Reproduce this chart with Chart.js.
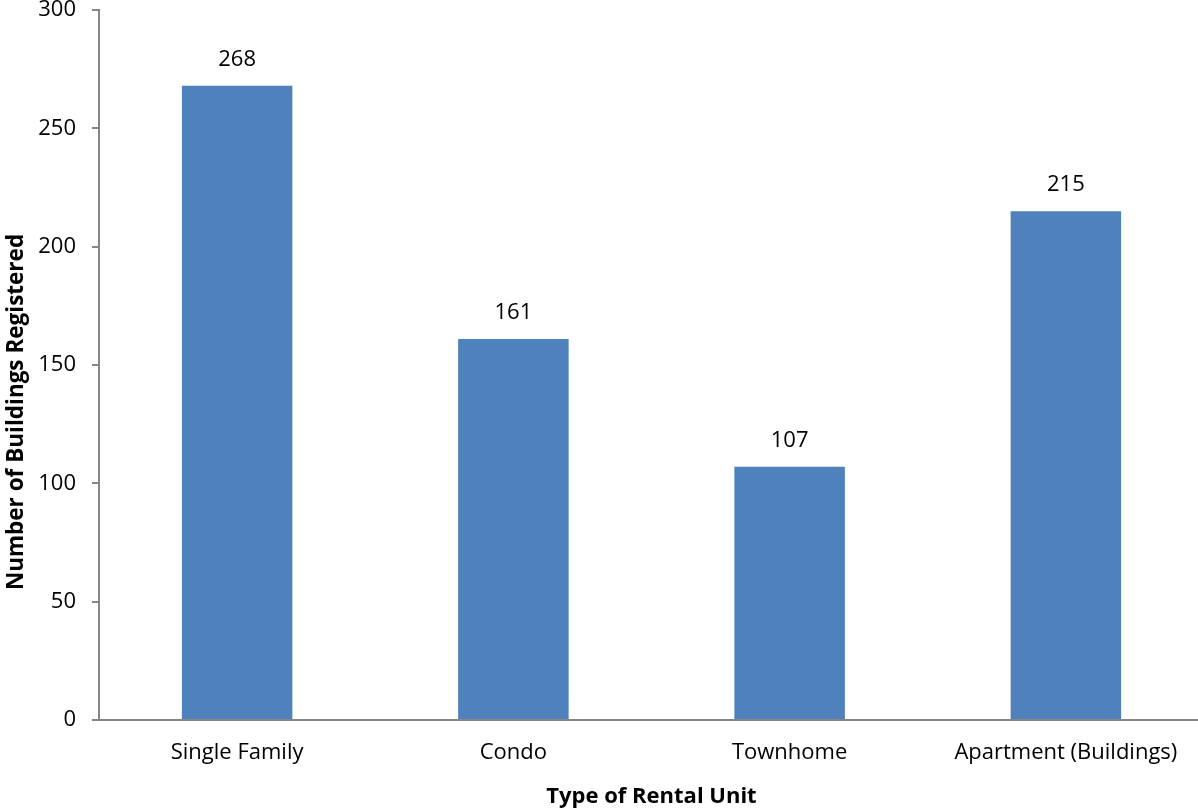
<!DOCTYPE html>
<html>
<head>
<meta charset="utf-8">
<script src="https://cdn.jsdelivr.net/npm/chart.js@4"></script>
<style>
  html, body { margin: 0; padding: 0; background: #fff; overflow: hidden; }
  #wrap { width: 1204px; height: 810px; }
</style>
</head>
<body>
<div id="wrap"><canvas id="rentalChart"></canvas></div>
<script>
const categories = ['Single Family', 'Condo', 'Townhome', 'Apartment (Buildings)'];
const buildings = [268, 161, 107, 215];
const yTicks = [0, 50, 100, 150, 200, 250, 300];

const fontFamily = "'Open Sans', 'Noto Sans', 'Liberation Sans', sans-serif";
const yTitle = 'Number of Buildings Registered';

// draws the number above each bar, plus the y axis title
const valueLabels = {
    id: 'valueLabels',
    afterDatasetsDraw(chart) {
        const ctx = chart.ctx;
        const meta = chart.getDatasetMeta(0);
        ctx.save();
        ctx.font = '22px ' + fontFamily;
        ctx.fillStyle = '#000';
        ctx.textAlign = 'center';
        ctx.textBaseline = 'alphabetic';
        meta.data.forEach(function(bar, i) {
            ctx.fillText(String(buildings[i]), bar.x, bar.y - 20);
        });
        ctx.restore();

        ctx.save();
        ctx.translate(17, 412);
        ctx.rotate(-Math.PI / 2);
        ctx.font = 'bold 22.5px ' + fontFamily;
        ctx.fillStyle = '#000';
        ctx.textAlign = 'center';
        ctx.textBaseline = 'middle';
        ctx.fillText(yTitle, 0, 0);
        ctx.restore();
    }
};

document.addEventListener('DOMContentLoaded', function() {
    const ctx = document.getElementById('rentalChart').getContext('2d');
    new Chart(ctx, {
        type: 'bar',
        data: {
            labels: categories,
            datasets: [{
                label: 'Buildings',
                data: buildings,
                backgroundColor: '#4F81BD',
                borderWidth: 0,
                categoryPercentage: 1,
                barPercentage: 0.4
            }]
        },
        options: {
            responsive: true,
            maintainAspectRatio: false,
            animation: false,
            layout: { padding: { top: 10, right: 0, left: 0, bottom: 0 } },
            plugins: {
                legend: { display: false },
                tooltip: { enabled: false }
            },
            scales: {
                x: {
                    grid: { display: false, drawTicks: false },
                    border: { color: '#868686', width: 2 },
                    ticks: {
                        color: '#000',
                        padding: 20,
                        font: { family: fontFamily, size: 22 }
                    },
                    title: {
                        display: true,
                        text: 'Type of Rental Unit',
                        color: '#000',
                        padding: { top: 2, bottom: 0 },
                        font: { family: fontFamily, size: 22, weight: 'bold' }
                    },
                    afterFit: function(scale) {
                        scale.height = 90;
                        scale.paddingLeft = 0;
                        scale.paddingRight = 0;
                    }
                },
                y: {
                    min: 0,
                    max: 300,
                    afterBuildTicks: function(scale) {
                        scale.ticks = yTicks.map(function(v) { return { value: v }; });
                    },
                    grid: {
                        drawOnChartArea: false,
                        tickLength: 7,
                        color: '#868686',
                        lineWidth: 2
                    },
                    border: { color: '#868686', width: 2 },
                    ticks: {
                        color: '#000',
                        padding: 16,
                        font: { family: fontFamily, size: 22 }
                    },
                    title: { display: false },
                    afterFit: function(scale) {
                        scale.width = 99;
                        scale.paddingTop = 0;
                        scale.paddingBottom = 0;
                    }
                }
            }
        },
        plugins: [valueLabels]
    });
});
</script>
</body>
</html>
